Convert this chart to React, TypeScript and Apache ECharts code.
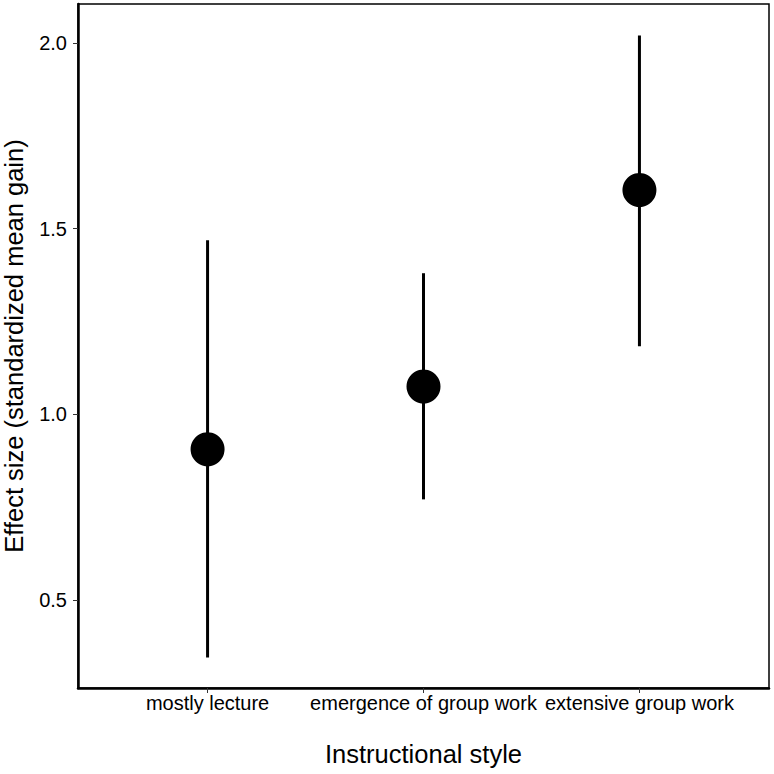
import React, { useEffect, useRef } from "react";
import * as echarts from "echarts";

const categories = ["mostly lecture", "emergence of group work", "extensive group work"];
const estimates = [0.906, 1.075, 1.604];
const lower = [0.345, 0.771, 1.183];
const upper = [1.469, 1.38, 2.02];
const yTicks = [0.5, 1.0, 1.5, 2.0];
const xTicks = [1, 2, 3];

export default function App() {
  const ref = useRef<HTMLDivElement>(null);
  useEffect(() => {
    if (!ref.current) return;
    const chart = echarts.init(ref.current, undefined, { renderer: "svg" });
    const font = "Liberation Sans";
    chart.setOption({
      animation: false,
      grid: {
        left: 78,
        right: 5,
        top: 4,
        bottom: 86,
        outerBoundsMode: "none",
        containLabel: false,
        show: true,
        borderColor: "#000",
        borderWidth: 1.5,
        backgroundColor: "transparent",
      },
      xAxis: {
        type: "value",
        min: 0.4,
        max: 3.6,
        name: "Instructional style",
        nameLocation: "middle",
        nameGap: 53,
        nameTextStyle: { fontFamily: font, fontSize: 25.5, color: "#000" },
        axisLine: { show: true, lineStyle: { color: "#000", width: 2.5 } },
        axisTick: { show: true, customValues: xTicks, length: 5, lineStyle: { color: "#333", width: 1 } },
        axisLabel: {
          customValues: xTicks,
          formatter: (v: number) => categories[Math.round(v) - 1] ?? "",
          fontFamily: font,
          fontSize: 20,
          color: "#000",
          margin: 5,
        },
        splitLine: { show: false },
      },
      yAxis: {
        type: "value",
        min: 0.263,
        max: 2.105,
        name: "Effect size (standardized mean gain)",
        nameLocation: "middle",
        nameGap: 51,
        nameTextStyle: { fontFamily: font, fontSize: 25.5, color: "#000" },
        axisLine: { show: true, lineStyle: { color: "#000", width: 2.5 } },
        axisTick: { show: true, customValues: yTicks, length: 5, lineStyle: { color: "#333", width: 1 } },
        axisLabel: {
          customValues: yTicks,
          formatter: (v: number) => v.toFixed(1),
          fontFamily: font,
          fontSize: 20,
          color: "#000",
          margin: 11,
        },
        splitLine: { show: false },
      },
      series: [
        {
          type: "custom",
          data: categories.map((_, i) => [i + 1, lower[i], upper[i]]),
          renderItem: (params: any, api: any) => {
            const x = api.value(0);
            const lo = api.coord([x, api.value(1)]);
            const hi = api.coord([x, api.value(2)]);
            return {
              type: "line",
              shape: { x1: lo[0], y1: lo[1], x2: hi[0], y2: hi[1] },
              style: { stroke: "#000", lineWidth: 3 },
            };
          },
          z: 2,
        },
        {
          type: "scatter",
          data: categories.map((_, i) => [i + 1, estimates[i]]),
          symbol: "circle",
          symbolSize: 34,
          itemStyle: { color: "#000", opacity: 1 },
          z: 3,
        },
      ],
    });
    return () => chart.dispose();
  }, []);
  return <div ref={ref} style={{ width: 774, height: 774, position: "absolute", left: 0, top: 0 }} />;
}
